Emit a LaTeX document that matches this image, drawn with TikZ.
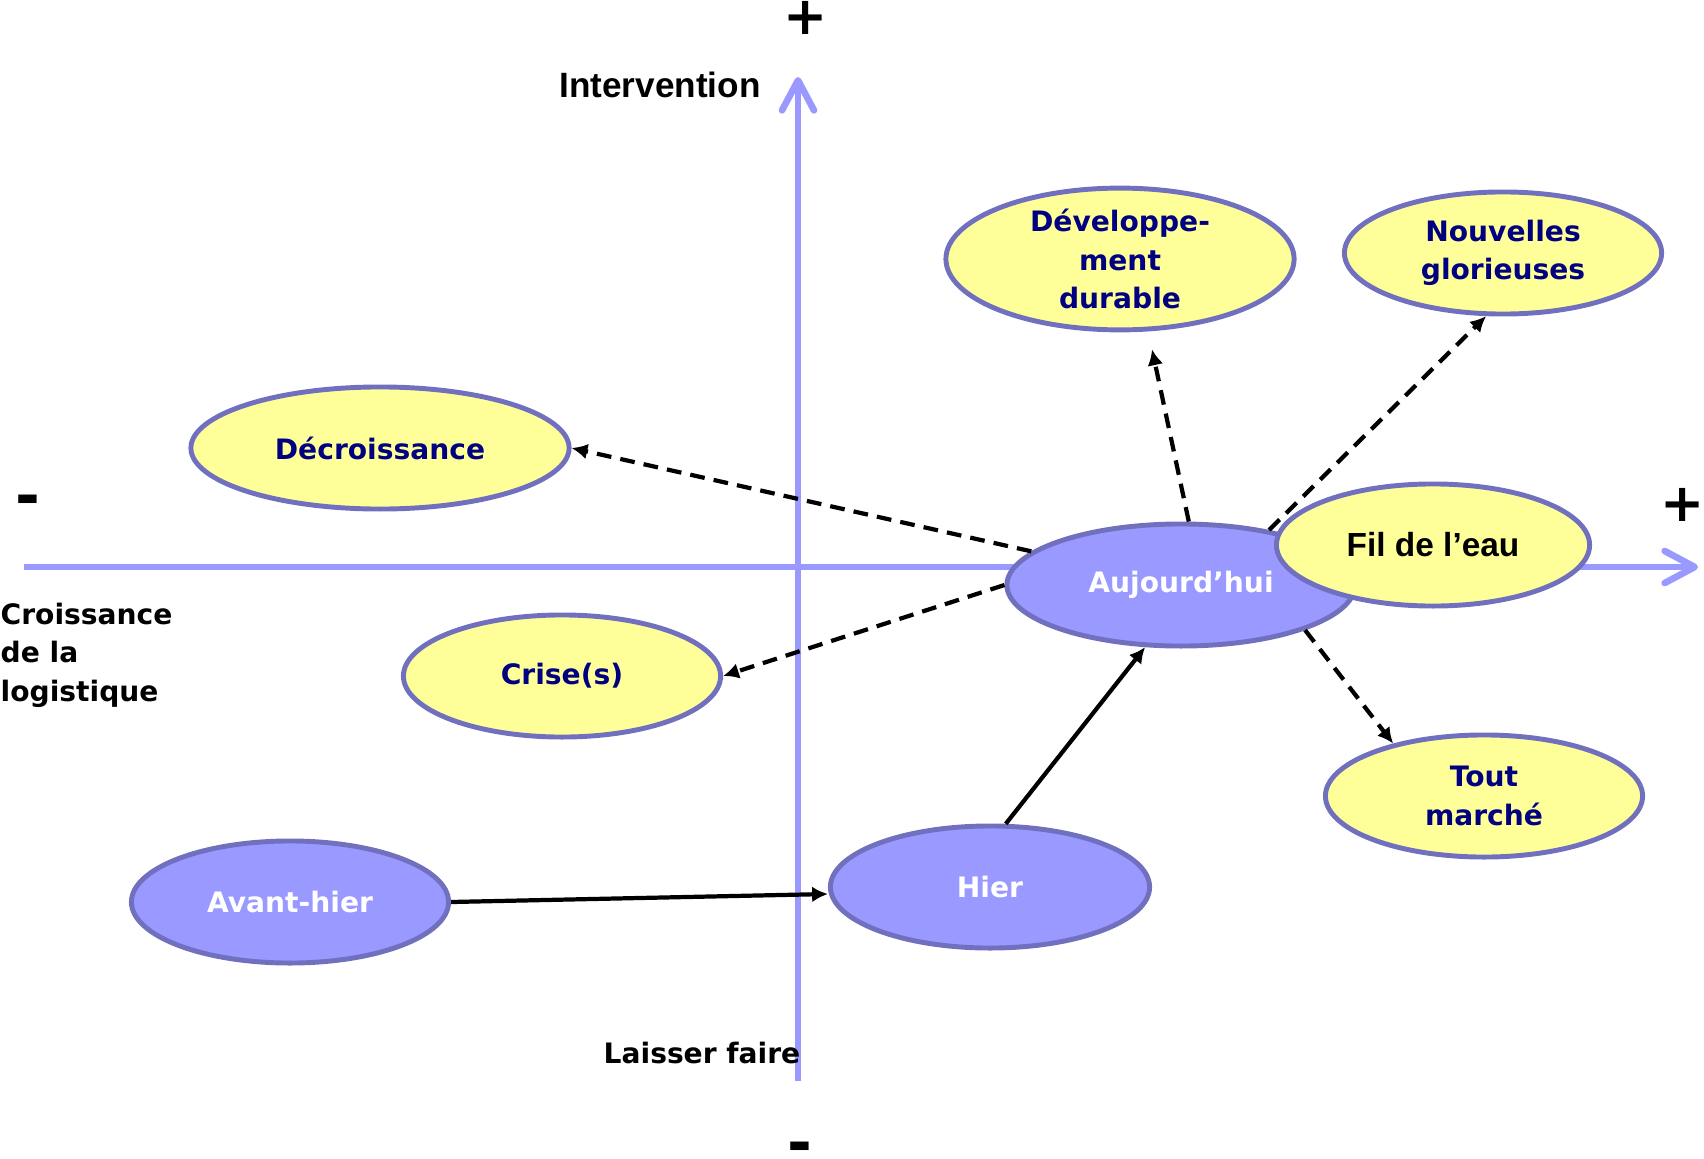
\documentclass[tikz,border=0pt]{standalone}
\usepackage{fontspec}
\setmainfont{DejaVu Sans}
\newfontfamily\arialfont{Liberation Sans}
\usetikzlibrary{shapes.geometric,arrows.meta}
\definecolor{axe}{HTML}{9999FF}
\definecolor{mauve}{HTML}{9999FF}
\definecolor{jaune}{HTML}{FFFF99}
\definecolor{bord}{HTML}{7070BE}
\definecolor{marine}{HTML}{000080}
\newcommand{\lbl}{\bfseries\fontsize{8}{11}\selectfont}
\newcommand{\signe}{\bfseries\fontsize{15}{15}\selectfont}
\newcommand{\moins}{\bfseries\fontsize{17}{17}\selectfont}
\begin{document}
\begin{tikzpicture}[x=0.01cm, y=-0.01cm]
\tikzstyle{axeline}=[draw=axe, line width=1.9pt, -{Straight Barb[length=3mm, width=3.2mm, round]}]
\tikzstyle{e}=[ellipse, draw=bord, line width=1.4pt, inner sep=0pt, minimum width=3.17cm, minimum height=1.22cm, align=center, font=\lbl]
\tikzstyle{futur}=[e, fill=jaune, text=marine]
\tikzstyle{passe}=[e, fill=mauve, text=white]
\tikzstyle{trend}=[line width=1.2pt, dash pattern=on 4.2pt off 2.6pt, -{Latex[length=4.5pt, width=4.5pt]}]
\tikzstyle{hist}=[line width=1.2pt, -{Latex[length=4.5pt, width=4.5pt]}]
\useasboundingbox (0,0) rectangle (1704,1158);

\coordinate (xg) at (24, 567);
\coordinate (xd) at (1698, 567);
\coordinate (yb) at (798, 1081);
\coordinate (yh) at (798, 77);
\draw[axeline] (xg) -- (xd);
\draw[axeline] (yb) -- (yh);

\node[font=\arialfont\bfseries\fontsize{10}{12}\selectfont](inter) at (660, 85) {Intervention};
\node[font=\lbl, align=left, anchor=north west, inner sep=0pt](crois) at (0, 602) {Croissance\\de la\\logistique};
\node[font=\lbl, inner sep=1pt](laisser) at (702, 1053) {Laisser faire};
\node[font=\signe, inner sep=0pt](ph) at (806, 18) {+};
\node[font=\signe, inner sep=0pt](pd) at (1683, 505) {+};
\node[font=\moins, inner sep=0pt](mg) at (28, 506) {-};
\node[font=\moins, inner sep=0pt](mb) at (800, 1153) {-};

\node[futur, minimum width=3.78cm](dec)   at (380, 448) {Décroissance};
\node[futur](crise)  at (562, 676) {Crise(s)};
\node[passe](avant)  at (290, 902) {Avant-hier};
\node[passe, minimum width=3.19cm](hier)   at (990, 887) {Hier};
\node[passe, minimum width=3.48cm](auj)    at (1181, 585) {Aujourd’hui};
\node[futur, minimum width=3.48cm, minimum height=1.37cm](dev) at (1120, 259) {Développe-\\ment\\durable};
\node[futur](nouv)   at (1503, 253) {Nouvelles\\glorieuses};
\node[futur](tout)   at (1484, 796) {Tout\\marché};

\draw[trend] (auj) -- (dec.east) ;
\draw[trend] (auj.west) -- (crise.east) ;
\draw[trend] (auj.83) -- ([xshift=0.32cm, yshift=-0.17cm]dev.south) ;
\draw[trend] (auj.32) -- (nouv.-105) ;
\draw[trend] (auj.-20) -- (tout.150) ;
\draw[hist] (avant.east) -- ([yshift=-0.07cm]hier.west) ;
\draw[hist] (hier.76) -- (auj.-120) ;

\node[futur, minimum width=3.13cm, text=black, font=\arialfont\bfseries\fontsize{9.5}{11}\selectfont](fil) at (1433, 545) {Fil de l’eau};
\end{tikzpicture}
\end{document}
